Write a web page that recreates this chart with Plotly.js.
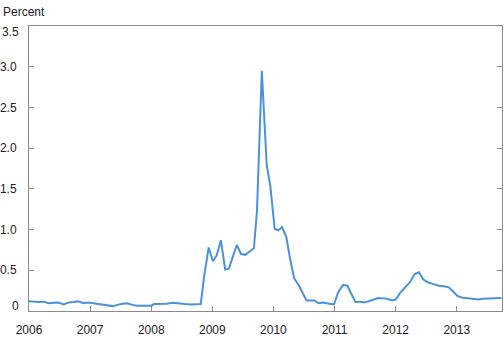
<!DOCTYPE html>
<html>
<head>
<meta charset="utf-8">
<script src="https://cdn.plot.ly/plotly-3.0.1.min.js"></script>
<style>html,body{margin:0;padding:0;background:#fff;}#chart{width:504px;height:341px;}</style>
</head>
<body>
<div id="chart"></div>
<script>
// Time in decimal years
const dates = [
  2006.00, 2006.08, 2006.16, 2006.24, 2006.32, 2006.40, 2006.48, 2006.57, 2006.65, 2006.73,
  2006.81, 2006.89, 2006.97, 2007.05, 2007.13, 2007.21, 2007.29, 2007.37, 2007.45, 2007.53,
  2007.61, 2007.69, 2007.77, 2007.85, 2007.93, 2008.00, 2008.05, 2008.15, 2008.25, 2008.35,
  2008.45, 2008.55, 2008.65, 2008.74, 2008.81, 2008.87, 2008.94, 2009.01, 2009.07, 2009.14,
  2009.21, 2009.27, 2009.34, 2009.40, 2009.47, 2009.54, 2009.61, 2009.68, 2009.73, 2009.81,
  2009.89, 2009.95, 2010.02, 2010.08, 2010.14, 2010.21, 2010.27, 2010.34, 2010.42, 2010.48,
  2010.54, 2010.61, 2010.67, 2010.74, 2010.80, 2010.87, 2010.93, 2010.99, 2011.06, 2011.14,
  2011.21, 2011.28, 2011.34, 2011.42, 2011.47, 2011.56, 2011.64, 2011.71, 2011.77, 2011.86,
  2011.94, 2012.00, 2012.07, 2012.15, 2012.24, 2012.31, 2012.38, 2012.45, 2012.53, 2012.62,
  2012.71, 2012.81, 2012.87, 2012.94, 2013.01, 2013.08, 2013.19, 2013.27, 2013.35, 2013.43,
  2013.51, 2013.62, 2013.73
];
const percent = [
  0.12, 0.115, 0.11, 0.115, 0.095, 0.10, 0.105, 0.08, 0.105, 0.11,
  0.12, 0.095, 0.105, 0.095, 0.085, 0.075, 0.065, 0.06, 0.075, 0.09,
  0.095, 0.075, 0.065, 0.065, 0.06, 0.065, 0.085, 0.085, 0.09, 0.10,
  0.09, 0.085, 0.08, 0.085, 0.085, 0.45, 0.78, 0.61, 0.68, 0.87,
  0.51, 0.52, 0.69, 0.81, 0.70, 0.69, 0.73, 0.77, 1.22, 2.95,
  1.79, 1.53, 1.01, 0.99, 1.03, 0.91, 0.65, 0.40, 0.31, 0.22,
  0.13, 0.13, 0.13, 0.095, 0.105, 0.095, 0.085, 0.08, 0.23, 0.32,
  0.31, 0.20, 0.11, 0.115, 0.105, 0.12, 0.14, 0.16, 0.158, 0.15,
  0.13, 0.14, 0.22, 0.29, 0.36, 0.455, 0.475, 0.39, 0.35, 0.33,
  0.31, 0.30, 0.29, 0.24, 0.185, 0.165, 0.158, 0.15, 0.14, 0.15,
  0.156, 0.156, 0.16
];
const xTickVals = [2006, 2007, 2008, 2009, 2010, 2011, 2012, 2013];
const xTickText = ['2006', '2007', '2008', '2009', '2010', '2011', '2012', '2013'];
const yTickVals = [0, 0.5, 1.0, 1.5, 2.0, 2.5, 3.0, 3.5];
const yTickText = ['0', '0.5', '1.0', '1.5', '2.0', '2.5', '3.0', '3.5'];

const font = {family: 'Liberation Sans, Arial, sans-serif', size: 12, color: '#222'};
const axisColor = '#8a8a8a';

// The end labels (0 and 3.5) sit nudged inward in the reference
const yAxisLabels = yTickText.map((t, i) => (i === 0 || i === yTickText.length - 1) ? '' : t);
const endLabelAnn = [
  {text: yTickText[0], y: yTickVals[0], yshift: 5},
  {text: yTickText[yTickText.length - 1], y: yTickVals[yTickVals.length - 1], yshift: -6}
].map(a => ({
  text: a.text, xref: 'paper', yref: 'y', x: 0, y: a.y,
  xanchor: 'right', yanchor: 'middle', xshift: -8, yshift: a.yshift,
  showarrow: false, font: font
}));

Plotly.newPlot('chart', [{
  x: dates,
  y: percent,
  type: 'scatter',
  mode: 'lines',
  line: {color: '#4a92da', width: 2},
  hoverinfo: 'skip'
}], {
  width: 504,
  height: 341,
  margin: {l: 29, r: 2, t: 26, b: 30, pad: 0},
  paper_bgcolor: '#fff',
  plot_bgcolor: '#fff',
  showlegend: false,
  font: font,
  xaxis: {
    range: [2006, 2013.74],
    tickvals: xTickVals,
    ticktext: xTickText,
    ticks: 'inside',
    ticklen: 5,
    tickcolor: axisColor,
    showline: true,
    linecolor: axisColor,
    linewidth: 1,
    mirror: true,
    showgrid: false,
    zeroline: false,
    tickfont: font,
    ticklabelstandoff: 8
  },
  yaxis: {
    range: [0, 3.5],
    tickvals: yTickVals,
    ticktext: yAxisLabels,
    ticks: 'inside',
    ticklen: 5,
    tickcolor: axisColor,
    showline: true,
    linecolor: axisColor,
    linewidth: 1,
    mirror: 'ticks',
    showgrid: false,
    zeroline: false,
    tickfont: font,
    ticklabelstandoff: 9
  },
  annotations: [{
    text: 'Percent',
    xref: 'paper', yref: 'paper',
    x: 0, y: 1,
    xanchor: 'left', yanchor: 'middle',
    xshift: -28, yshift: 14,
    showarrow: false,
    font: font
  }].concat(endLabelAnn)
}, {staticPlot: true, displayModeBar: false});
</script>
</body>
</html>
